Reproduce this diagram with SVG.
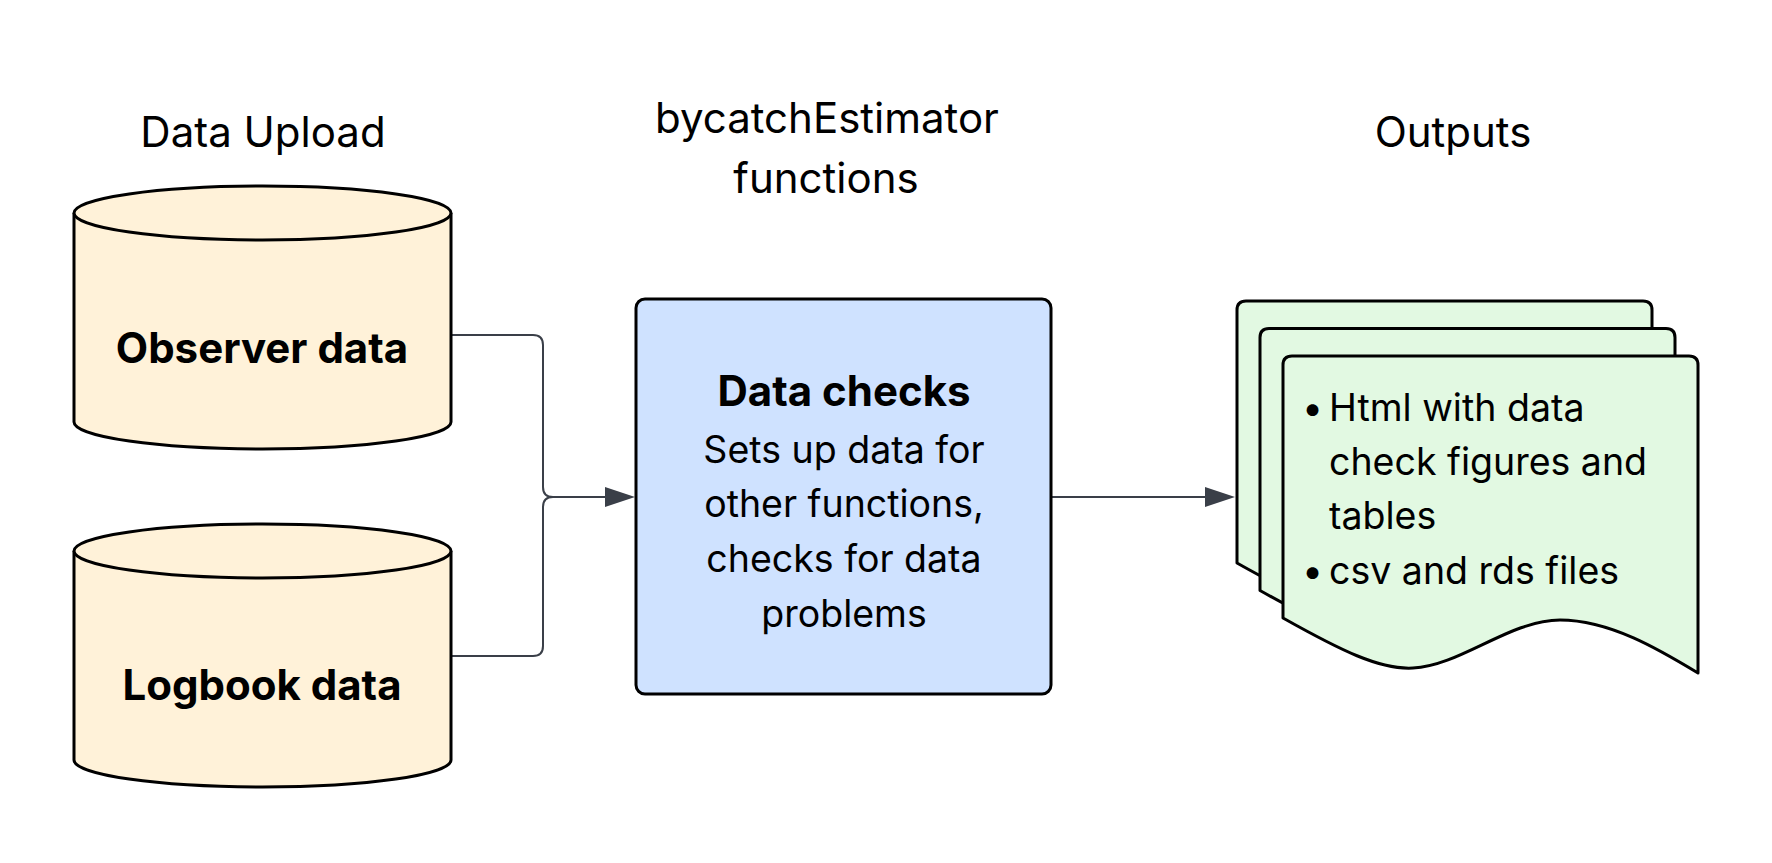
<svg xmlns="http://www.w3.org/2000/svg" width="1772" height="863" viewBox="0 0 1772 863">
<defs>
<style>
.hdr{font-family:Inter,"Liberation Sans",sans-serif;font-size:42px;fill:#000;text-anchor:middle}
.bold{font-family:Inter,"Liberation Sans",sans-serif;font-size:42px;font-weight:bold;fill:#000;text-anchor:middle}
.body{font-family:Inter,"Liberation Sans",sans-serif;font-size:37.5px;fill:#000}
.cyl{fill:#fff2d9;stroke:#000;stroke-width:3}
.box{fill:#cfe2ff;stroke:#000;stroke-width:3}
.doc{fill:#e2f9e2;stroke:#000;stroke-width:3;stroke-linejoin:round}
.conn{fill:none;stroke:#3a3f48;stroke-width:2}
.head{fill:#3a3f48}
</style>
<path id="docshape" d="M1283,618 V365 Q1283,356 1292,356 H1689 Q1698,356 1698,365 V673 C1660,650 1610,620 1560,620 C1510,620 1460,666 1413,668 C1380,670 1340,650 1283,618 Z"/>
</defs>
<rect width="1772" height="863" fill="#fff"/>
<g id="headers">
<text class="hdr" x="263" y="147">Data Upload</text>
<text class="hdr" x="827" y="133">bycatchEstimator</text>
<text class="hdr" x="826" y="193">functions</text>
<text class="hdr" x="1453" y="147">Outputs</text>
</g>
<g id="connectors">
<path class="conn" d="M451,335 H533 Q543,335 543,345 V487 Q543,497 553,497 H606"/>
<path class="conn" d="M451,656 H533 Q543,656 543,646 V507 Q543,497 553,497"/>
<polygon class="head" points="605,487 635,497 605,507"/>
<path class="conn" d="M1051,497 H1206"/>
<polygon class="head" points="1205,487 1235,497 1205,507"/>
</g>
<g id="observer">
<path class="cyl" d="M74,213 V422 A188.5,27 0 0 0 451,422 V213"/>
<ellipse class="cyl" cx="262.5" cy="213" rx="188.5" ry="27"/>
<text class="bold" x="262" y="363">Observer data</text>
</g>
<g id="logbook">
<path class="cyl" d="M74,551 V760 A188.5,27 0 0 0 451,760 V551"/>
<ellipse class="cyl" cx="262.5" cy="551" rx="188.5" ry="27"/>
<text class="bold" x="262" y="700">Logbook data</text>
</g>
<g id="datachecks">
<rect class="box" x="636" y="299" width="415" height="395" rx="9"/>
<text class="bold" x="844" y="406">Data checks</text>
<text class="body" text-anchor="middle" x="844" y="463">Sets up data for</text>
<text class="body" text-anchor="middle" x="844" y="517">other functions,</text>
<text class="body" text-anchor="middle" x="844" y="572">checks for data</text>
<text class="body" text-anchor="middle" x="844" y="627">problems</text>
</g>
<g id="outputs">
<use href="#docshape" class="doc" transform="translate(-46,-55)"/>
<use href="#docshape" class="doc" transform="translate(-23,-27.5)"/>
<use href="#docshape" class="doc"/>
<text class="body" x="1302" y="421">•</text>
<text class="body" x="1329" y="421">Html with data</text>
<text class="body" x="1329" y="475">check figures and</text>
<text class="body" x="1329" y="529">tables</text>
<text class="body" x="1302" y="584">•</text>
<text class="body" x="1329" y="584">csv and rds files</text>
</g>
</svg>
